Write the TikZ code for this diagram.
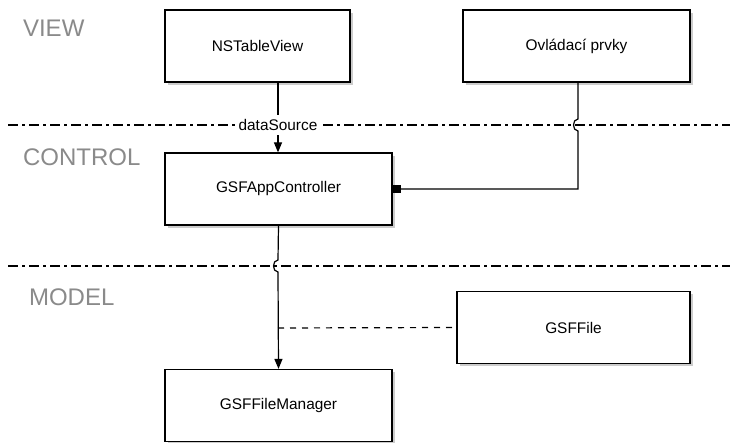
\documentclass[tikz,border=0pt]{standalone}
\usepackage{fontspec}
\setmainfont{Liberation Sans}
\usetikzlibrary{arrows.meta,shadows}
\definecolor{layergray}{RGB}{138,138,138}
\tikzset{
  box/.style={draw, fill=white, line width=0.6pt, minimum height=36pt, font=\fontsize{7.7}{9}\selectfont,
    drop shadow={shadow xshift=1.4pt, shadow yshift=-1.4pt, opacity=0.4}},
  layer/.style={anchor=west, text=layergray, font=\fontsize{12}{14}\selectfont},
  divider/.style={line width=0.6pt, dash pattern=on 5pt off 2pt on 1.5pt off 2pt},
  conn/.style={line width=0.6pt}
}
\begin{document}
\begin{tikzpicture}[x=0.5pt, y=-0.5pt]
        \useasboundingbox (0,0) rectangle (730,443);

        % layer borders
        \draw[divider] (8,125) -- (730,125);
        \draw[divider] (8,266) -- (730,266);

        \node[layer] (view) at (16,28) {VIEW};
        \node[layer] (control) at (16,157) {CONTROL};
        \node[layer] (model) at (22,297) {MODEL};

        \node[box, minimum width=92.5pt] (tableview) at (257.5,46) {NSTableView};
        \node[box, minimum width=113.5pt] (controls) at (576.5,46) {Ovládací prvky};
        \node[box, minimum width=113.5pt] (appctrl) at (278.5,189) {GSFAppController};
        \node[box, minimum width=116.5pt] (gsffile) at (573.5,327.5) {GSFFile};
        \node[box, minimum width=113.5pt] (filemgr) at (278.5,405.5) {GSFFileManager};

        \node[fill=white, inner sep=2pt, font=\fontsize{7.7}{9}\selectfont] (datasrc) at (278,125) {dataSource};
        \draw[conn] (278,82) -- (datasrc);
        \draw[conn,-{Triangle[length=5pt,width=4pt]}] (datasrc) -- (appctrl.north -| datasrc);

        % controls -> controller, jumps over the border
        \draw[conn,{Square[length=4pt,width=4pt]}-] (appctrl.east) -| (578,131)
            .. controls (572,131) and (572,119) .. (578,119) -- (controls.south -| 578,0);

        % controller -> file manager, jumps over the border
        \coordinate (uses) at (278,328);
        \draw[conn,-{Triangle[length=5pt,width=4pt]}] (appctrl.south) -- (278,260)
            .. controls (272,260) and (272,272) .. (278,272) -- (filemgr.north);
        \draw[conn,dashed] (uses) -- (gsffile.west);
    \end{tikzpicture}
\end{document}
